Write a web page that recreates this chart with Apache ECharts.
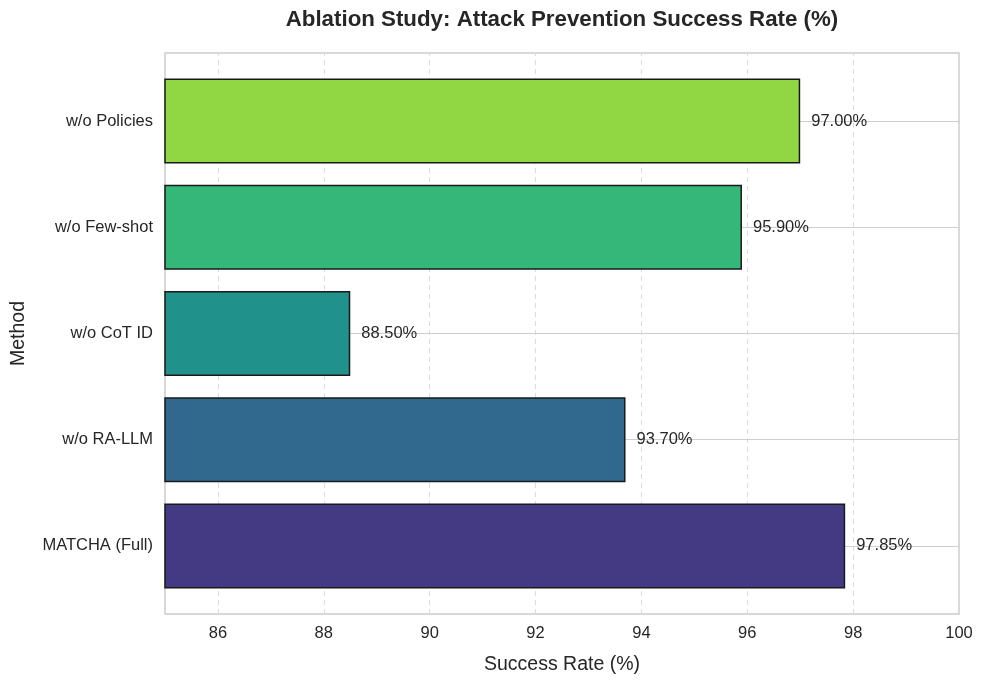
<!DOCTYPE html>
<html>
<head>
<meta charset="utf-8">
<script src="https://cdn.jsdelivr.net/npm/echarts@6/dist/echarts.min.js"></script>
<style>html,body{margin:0;padding:0;background:#fff;}#c{width:984px;height:684px;}</style>
</head>
<body>
<div id="c"></div>
<script>
const categories = ['MATCHA (Full)', 'w/o RA-LLM', 'w/o CoT ID', 'w/o Few-shot', 'w/o Policies'];
const values = [97.85, 93.70, 88.50, 95.90, 97.00];
const colors = ['#443983', '#31688e', '#21918c', '#35b779', '#90d743'];
const xTicks = [86, 88, 90, 92, 94, 96, 98, 100];

const FONT = '"Liberation Sans", Arial, "DejaVu Sans", sans-serif';
const TXT = '#262626';
const chart = echarts.init(document.getElementById('c'));

const vLines = xTicks.map(v => ({ xAxis: v }));
const hLines = categories.map(c => ({ yAxis: c }));

chart.setOption({
  animation: false,
  title: {
    text: 'Ablation Study: Attack Prevention Success Rate (%)',
    left: 557, top: 4, textAlign: 'center',
    textStyle: { fontFamily: FONT, fontSize: 22.3, fontWeight: 'bold', color: TXT }
  },
  grid: [
    { left: 165, right: 25, top: 53, bottom: 70,
      show: true, borderColor: '#cccccc', borderWidth: 1.5, backgroundColor: 'transparent' },
    { left: 165, right: 25, top: 68, bottom: 85, show: false }
  ],
  xAxis: [{
    gridIndex: 0, type: 'value', min: 85, max: 100,
    name: 'Success Rate (%)', nameLocation: 'middle', nameGap: 41,
    nameTextStyle: { fontFamily: FONT, fontSize: 19.5, color: TXT },
    axisLine: { show: false }, axisTick: { show: false },
    splitLine: { show: false },
    axisLabel: { customValues: xTicks, fontFamily: FONT, fontSize: 16.5, color: TXT, margin: 11 }
  }, {
    gridIndex: 1, type: 'value', min: 85, max: 100, show: false,
    splitLine: { show: false }
  }],
  yAxis: [{
    gridIndex: 0, type: 'value', min: 0, max: 1, show: false,
    splitLine: { show: false }
  }, {
    gridIndex: 1, type: 'category', data: categories,
    name: 'Method', nameLocation: 'middle', nameGap: 136,
    nameTextStyle: { fontFamily: FONT, fontSize: 19.5, color: TXT },
    axisLine: { show: false }, axisTick: { show: false }, splitLine: { show: false },
    axisLabel: { fontFamily: FONT, fontSize: 16.5, color: TXT, margin: 12 }
  }],
  series: [{
    type: 'line', xAxisIndex: 0, yAxisIndex: 0, z: 1,
    data: [[85, 0]], showSymbol: false, symbol: 'none', lineStyle: { opacity: 0 },
    silent: true,
    markLine: {
      silent: true, symbol: 'none', z: 1, label: { show: false }, animation: false,
      lineStyle: { type: [5, 4], color: '#dcdcdc', width: 1 },
      data: vLines
    }
  }, {
    type: 'bar', xAxisIndex: 1, yAxisIndex: 1,
    z: 3,
    barWidth: '80%',
    data: values.map((v, i) => ({ value: v, itemStyle: { color: colors[i] } })),
    itemStyle: { borderColor: '#1a1a1a', borderWidth: 1.5 },
    label: {
      show: true, position: 'right', distance: 11,
      formatter: p => p.value.toFixed(2) + '%',
      fontFamily: FONT, fontSize: 16.5, color: TXT
    },
    markLine: {
      silent: true, symbol: 'none', z: 1, label: { show: false }, animation: false,
      lineStyle: { type: 'solid', color: '#cfcfcf', width: 1.2 },
      data: hLines
    }
  }]
});
</script>
</body>
</html>
